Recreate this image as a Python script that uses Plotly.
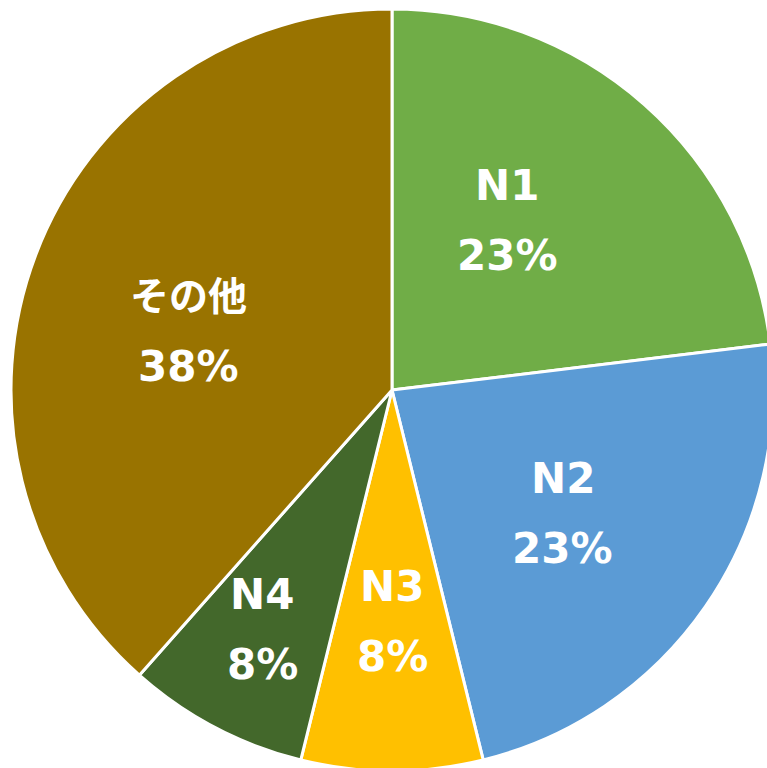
import math
import plotly.graph_objects as go

# ---- data ----
labels = ["N1", "N2", "N3", "N4", "その他"]
values = [30, 30, 10, 10, 50]

# ---- style ----
colors = ["#70AD47", "#5B9BD5", "#FFC000", "#43682B", "#997300"]
label_radius_frac = [0.537, 0.553, 0.608, 0.715, 0.557]
label_angle_shift = [-7.3, 1.2, 0.0, 0.8, -4.7]
FONT = "DejaVu Sans, Noto Sans CJK JP, sans-serif"
FS = 42
LINE_GAP = 70  # px between the two label lines

W, H = 773, 771
ML, MT = 11, 9
PW, PH = W - ML, H - MT   # plot area (square)
R = min(PW, PH) / 2
CX, CY = ML + PW / 2, MT + PH / 2

fig = go.Figure(go.Pie(
    labels=labels,
    values=values,
    sort=False,
    direction="clockwise",
    rotation=0,
    marker=dict(colors=colors, line=dict(color="white", width=3)),
    textinfo="none",
    hoverinfo="label+percent",
    showlegend=False,
))

total = sum(values)
cum = 0
annotations = []
for lab, v, rf, sh in zip(labels, values, label_radius_frac, label_angle_shift):
    mid = (cum + v / 2) / total * 360 + sh
    cum += v
    a = math.radians(mid)
    px = CX + rf * R * math.sin(a)
    py = CY - rf * R * math.cos(a)
    pct = f"{round(v / total * 100)}%"
    size = FS - 3 if not lab.isascii() else FS
    for txt, yy, fs in ((lab, py - LINE_GAP / 2, size), (pct, py + LINE_GAP / 2, FS)):
        annotations.append(dict(
            x=(px - ML) / PW, y=1 - (yy - MT) / PH,
            xref="paper", yref="paper",
            text=f"<b>{txt}</b>", showarrow=False,
            xanchor="center", yanchor="middle",
            font=dict(family=FONT, size=fs, color="white"),
        ))

fig.update_layout(
    width=W, height=H,
    margin=dict(l=ML, r=0, t=MT, b=0, pad=0),
    paper_bgcolor="white",
    plot_bgcolor="white",
    annotations=annotations,
)

fig.write_html(
    "out.html",
    config={"displayModeBar": False},
    post_script="document.body.style.margin='0';document.body.style.overflow='hidden';document.documentElement.style.overflow='hidden';",
)
